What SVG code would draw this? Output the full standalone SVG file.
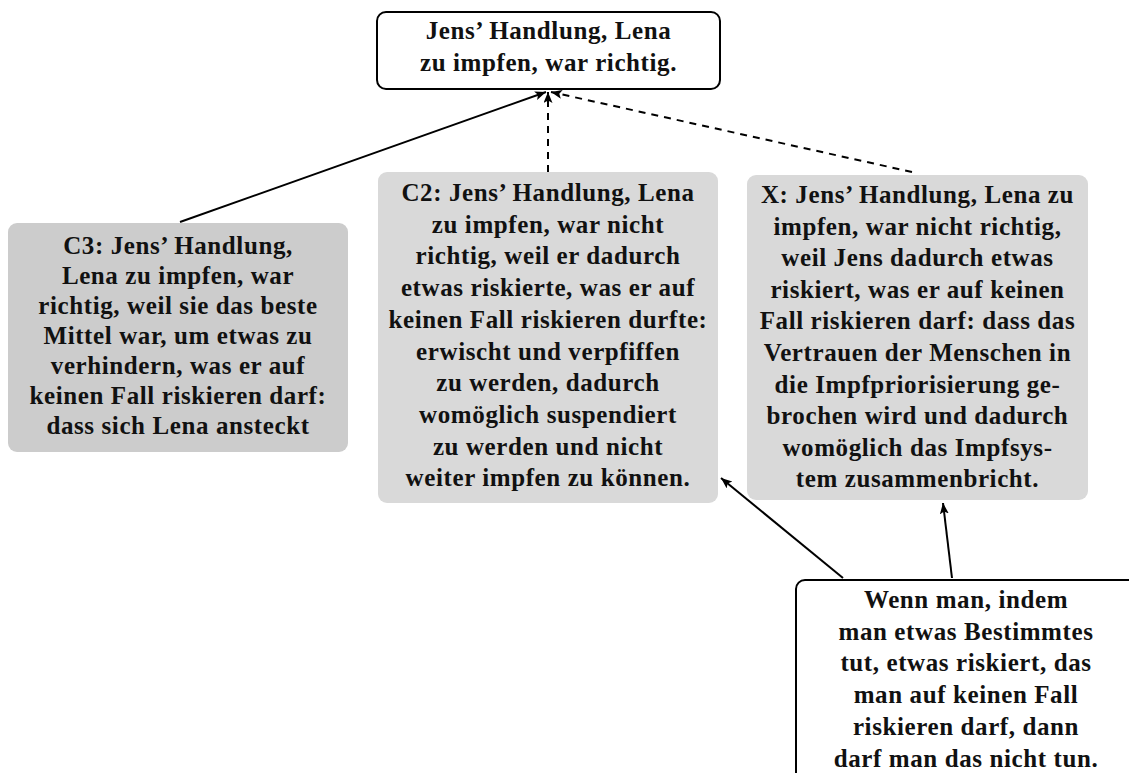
<svg xmlns="http://www.w3.org/2000/svg" width="1129" height="773" viewBox="0 0 1129 773">
<style>
.t{font-family:"Liberation Serif","Times New Roman",serif;font-weight:bold;font-size:25px;letter-spacing:0.6px;fill:#111;text-anchor:middle}
.wb{fill:#fff;stroke:#000;stroke-width:2}
.g1{fill:#cccccc}
.g2{fill:#d9d9d9}
.c{stroke:#000;stroke-width:2;fill:none}
.d{stroke-dasharray:7,6}
</style>
<defs>
<marker id="ah" markerUnits="userSpaceOnUse" markerWidth="13" markerHeight="10" refX="11" refY="4.5" orient="auto">
<path d="M0,0 L11,4.5 L0,9 L2.5,4.5 z" fill="#000"/>
</marker>
</defs>
<rect width="1129" height="773" fill="#fff"/>
<g id="connectors">
<line class="c" x1="180" y1="222" x2="546" y2="92" marker-end="url(#ah)"/>
<line class="c d" x1="548" y1="172" x2="548" y2="92" marker-end="url(#ah)"/>
<line class="c d" x1="912" y1="172" x2="551" y2="92" marker-end="url(#ah)"/>
<line class="c" x1="843" y1="578" x2="721" y2="478" marker-end="url(#ah)"/>
<line class="c" x1="952" y1="578" x2="943" y2="503" marker-end="url(#ah)"/>
</g>
<g id="top">
<rect class="wb" x="377" y="12" width="343" height="77" rx="9"/>
<text class="t" x="548.5" y="39">Jens’ Handlung, Lena</text>
<text class="t" x="548.5" y="71">zu impfen, war richtig.</text>
</g>
<g id="C3">
<rect class="g1" x="8" y="223" width="340" height="229" rx="9"/>
<text class="t" x="178"><tspan x="178" y="254">C3: Jens’ Handlung,</tspan><tspan x="178" y="284">Lena zu impfen, war</tspan><tspan x="178" y="314">richtig, weil sie das beste</tspan><tspan x="178" y="344">Mittel war, um etwas zu</tspan><tspan x="178" y="374">verhindern, was er auf</tspan><tspan x="178" y="404">keinen Fall riskieren darf:</tspan><tspan x="178" y="434">dass sich Lena ansteckt</tspan></text>
</g>
<g id="C2">
<rect class="g2" x="378" y="172" width="340" height="331" rx="9"/>
<text class="t"><tspan x="548" y="201">C2: Jens’ Handlung, Lena</tspan><tspan x="548" y="232.7">zu impfen, war nicht</tspan><tspan x="548" y="264.4">richtig, weil er dadurch</tspan><tspan x="548" y="296.1">etwas riskierte, was er auf</tspan><tspan x="548" y="327.8">keinen Fall riskieren durfte:</tspan><tspan x="548" y="359.5">erwischt und verpfiffen</tspan><tspan x="548" y="391.2">zu werden, dadurch</tspan><tspan x="548" y="422.9">womöglich suspendiert</tspan><tspan x="548" y="454.6">zu werden und nicht</tspan><tspan x="548" y="486.3">weiter impfen zu können.</tspan></text>
</g>
<g id="X">
<rect class="g2" x="747" y="175" width="341" height="325" rx="9"/>
<text class="t"><tspan x="917.5" y="203">X: Jens’ Handlung, Lena zu</tspan><tspan x="917.5" y="234.6">impfen, war nicht richtig,</tspan><tspan x="917.5" y="266.2">weil Jens dadurch etwas</tspan><tspan x="917.5" y="297.8">riskiert, was er auf keinen</tspan><tspan x="917.5" y="329.4">Fall riskieren darf: dass das</tspan><tspan x="917.5" y="361">Vertrauen der Menschen in</tspan><tspan x="917.5" y="392.6">die Impfpriorisierung ge-</tspan><tspan x="917.5" y="424.2">brochen wird und dadurch</tspan><tspan x="917.5" y="455.8">womöglich das Impfsys-</tspan><tspan x="917.5" y="487.4">tem zusammenbricht.</tspan></text>
</g>
<g id="rule">
<rect class="wb" x="796" y="580" width="342" height="210" rx="9"/>
<text class="t"><tspan x="966" y="608">Wenn man, indem</tspan><tspan x="966" y="639.7">man etwas Bestimmtes</tspan><tspan x="966" y="671.4">tut, etwas riskiert, das</tspan><tspan x="966" y="703.1">man auf keinen Fall</tspan><tspan x="966" y="734.8">riskieren darf, dann</tspan><tspan x="966" y="766.5">darf man das nicht tun.</tspan></text>
</g>
</svg>
